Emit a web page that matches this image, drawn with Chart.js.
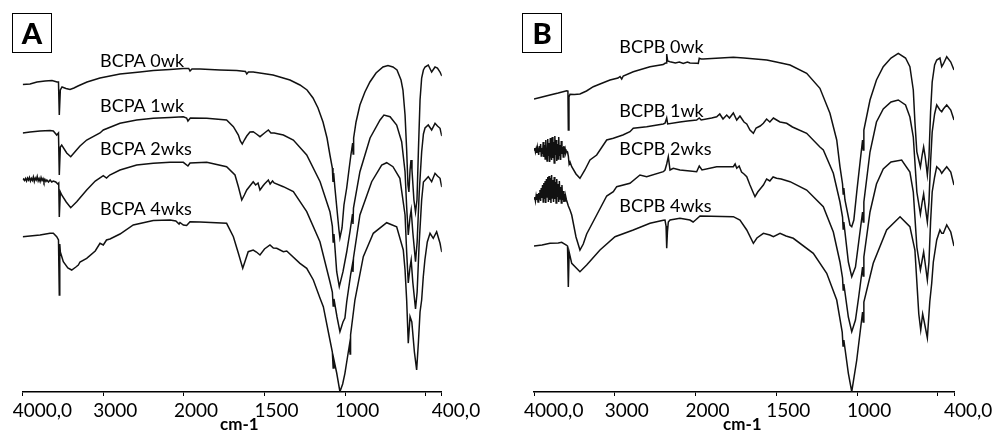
<!DOCTYPE html>
<html>
<head>
<meta charset="utf-8">
<script src="https://cdn.jsdelivr.net/npm/chart.js@4.4.1/dist/chart.umd.min.js"></script>
<style>
  html, body { margin: 0; padding: 0; background: #fff; }
  body { width: 997px; height: 432px; position: relative; overflow: hidden; font-family: Lato, "Open Sans", sans-serif; }
  .panel { position: absolute; top: 0; height: 432px; }
  .tag { position: absolute; top: 13px; width: 38px; height: 38px; border: 1.5px solid #000;
         font-weight: 900; font-size: 29px; line-height: 38px; text-align: center; color: #000; }
  .unit { position: absolute; top: 413px; font-weight: 700; font-size: 17px; color: #000; }
</style>
</head>
<body>
<div class="panel" style="left:0;width:498px"><canvas id="chartA" width="498" height="432"></canvas></div>
<div class="panel" style="left:498px;width:499px"><canvas id="chartB" width="499" height="432"></canvas></div>
<div class="tag" style="left:12px">A</div>
<div class="tag" style="left:522px">B</div>
<div class="unit" style="left:220px">cm-1</div>
<div class="unit" style="left:723px">cm-1</div>
<script>
// wavenumber (cm-1) vs. relative transmittance (offset spectra, arbitrary units)
const bcpa0wk = [[4000,307.5],[3909,308],[3823,310],[3723,311],[3636,311.5],[3574,310],[3556,310],[3546,277],[3533,302],[3512,305],[3463,303.5],[3413,302.5],[3364,304],[3314,306],[3202,310],[3041,314],[2793,318],[2545,320],[2380,321.5],[2172,322.5],[2007,323.5],[1970,323.5],[1962,321],[1950,323],[1900,323],[1776,322],[1672,321.5],[1618,320.5],[1610,318],[1600,320],[1570,320],[1447,317],[1342,312],[1280,307],[1236,302],[1199,294],[1168,284],[1137,270],[1112,254],[1094,237],[1079,224],[1075,210],[1071,219],[1063,204],[1050,182],[1038,162],[1032,154],[1019,164],[1007,187],[990,204],[976,222],[964,237],[953,249],[950,238],[947,254],[932,270],[908,287],[877,300],[846,310],[808,319],[765,325],[734,326.5],[703,325],[678,322],[653,312],[641,302],[628,277],[618,242],[610,207],[604,200],[597,222],[591,232],[585,222],[573,192],[563,180],[554,192],[545,242],[535,292],[525,314],[514,322],[504,325],[484,327],[463,320],[442,325],[427,324],[411,320],[400,316]];
const bcpa1wk = [[4000,259],[3909,260],[3785,261],[3661,261.5],[3620,261],[3578,257],[3556,259],[3546,217],[3533,245],[3516,247],[3454,239],[3404,235.3],[3351,240.3],[3289,246],[3206,252],[3041,259],[3000,262],[2793,268.7],[2586,272],[2380,273.7],[2172,274.5],[2007,275.3],[1983,274],[1975,271],[1960,274],[1858,273.7],[1735,272],[1693,265.3],[1662,257],[1650,251],[1638,248],[1625,252],[1610,256],[1590,260],[1570,260.3],[1550,258],[1528,255.3],[1500,259],[1476,262],[1460,259],[1440,259],[1383,257],[1321,252],[1238,237],[1155,210.3],[1094,180.3],[1079,166],[1074,150],[1069,158],[1052,120.3],[1036,105.3],[1013,120.3],[990,140],[970,160],[954,178],[951,168],[948,184],[908,220.3],[845,254],[783,272],[759,277],[721,275.3],[680,267],[649,250.3],[628,220.3],[618,185],[608,157],[597,175],[590,182],[580,160],[563,130.3],[553,150],[540,200],[525,240],[514,258],[504,264],[484,267],[463,262],[442,268.7],[427,266],[411,263.7],[400,256]];
const bcpa2wks = [[4000,212],[3988,213],[3976,211.5],[3964,213.5],[3952,211],[3940,214],[3928,212],[3916,214.5],[3904,211],[3892,213.5],[3880,211.5],[3868,215],[3856,210.5],[3844,214],[3832,212],[3820,215.5],[3808,211],[3796,213.5],[3784,210.5],[3772,214.5],[3760,211.5],[3748,213.5],[3736,210],[3724,212.5],[3712,210.5],[3700,212],[3680,210],[3660,212],[3640,210],[3620,211],[3590,210],[3565,208],[3553,209],[3546,175],[3533,200],[3516,197],[3460,190],[3404,184.3],[3330,190.3],[3206,202],[3100,211],[3000,216.3],[2960,214],[2920,217],[2793,222],[2586,227],[2380,228.7],[2172,229.7],[2007,229.7],[1975,226],[1962,229],[1858,229.7],[1735,225.3],[1683,217],[1662,205.3],[1641,192],[1625,197],[1610,202],[1570,210.3],[1555,207],[1540,209],[1528,202],[1510,206],[1500,208],[1476,212],[1465,208],[1450,211],[1440,209],[1383,205.3],[1321,200.3],[1238,180.3],[1156,150.3],[1094,110.3],[1079,100],[1074,86],[1069,93],[1050,75],[1032,60.3],[1013,70],[1001,74],[990,90],[965,118],[954,128],[951,120],[948,134],[908,177],[835,210.3],[773,227],[742,229.3],[703,225.3],[660,213.7],[628,177],[618,140],[608,109],[597,125],[590,132],[580,110],[563,83],[553,100],[540,150],[525,192],[514,210],[484,215.3],[463,210.3],[442,218.7],[427,216],[411,213.7],[400,205]];
const bcpa4wks = [[4000,155.3],[3909,156],[3785,157],[3661,158.7],[3620,158.7],[3578,155.3],[3556,152],[3546,97],[3540,148],[3533,140],[3496,130.3],[3440,124],[3392,122],[3340,125],[3310,127],[3289,130],[3206,133.7],[3100,141],[3041,148.7],[3000,147],[2960,152],[2917,153],[2793,158],[2628,167],[2380,171.5],[2172,172],[2100,171],[2060,168],[2048,169.5],[2007,167],[1983,166.5],[1962,170.3],[1900,170],[1735,168.7],[1693,155.3],[1662,138.7],[1635,123.7],[1618,132],[1601,140.3],[1570,142],[1550,140],[1528,137],[1500,143],[1466,147],[1445,144],[1424,143.7],[1383,140.3],[1362,141],[1280,128.7],[1238,123.7],[1197,112],[1156,94],[1135,85.3],[1094,52],[1079,40],[1074,24],[1069,32],[1052,19],[1032,0.3],[1015,8],[1001,18.7],[985,35],[972,48],[969,38],[966,57],[939,92],[887,135.3],[825,158.7],[742,169.3],[680,165.3],[639,142],[628,122],[618,92],[608,48.7],[597,75.3],[586,70],[570,40],[556,22],[545,50],[535,80],[525,92],[515,115],[505,132],[490,150],[473,158.7],[453,153.7],[432,160.3],[411,148.7],[400,140]];

const bcpb0wk = [[4000,293],[3900,295],[3802,297],[3700,299],[3595,301.3],[3580,301],[3575,262],[3567,295],[3554,297.7],[3500,297.5],[3431,298],[3350,301],[3266,305.3],[3183,308],[3059,312],[2960,314],[2935,315.5],[2914,313],[2895,316],[2771,320.3],[2564,325.3],[2400,327.5],[2378,328.7],[2365,329],[2357,338],[2345,331],[2316,330.3],[2250,329],[2200,330],[2152,328.5],[2100,330],[2069,329],[1993,328.7],[1983,328.5],[1977,333.7],[1965,333],[1952,333],[1900,333.5],[1766,334.7],[1700,334],[1559,332],[1500,330],[1415,327],[1312,318.7],[1230,303.7],[1168,278.7],[1126,252],[1106,225.3],[1090,208],[1086,198],[1082,204],[1075,192],[1044,167],[1033,165.3],[1020,172],[1002,200],[980,232],[966,252],[962,242],[958,262],[920,292],[880,312],[838,325.3],[790,334],[745,338.7],[700,334],[673,325.3],[652,302],[642,270],[630,240],[608,225],[597,237],[588,245],[578,235],[565,217],[555,235],[545,280],[535,310],[520,327],[507,332],[487,334],[476,325.3],[466,328],[445,335.3],[420,330],[400,322]];
const bcpb1wk = [[4000,242],[3990,244],[3982,240],[3974,243],[3966,239],[3958,245],[3950,241],[3942,237],[3934,246],[3926,240],[3918,248],[3910,236],[3902,244],[3894,238],[3886,250],[3878,235],[3870,247],[3862,233],[3854,252],[3846,240],[3838,231],[3830,253],[3822,236],[3814,249],[3806,230],[3798,254],[3790,238],[3782,232],[3774,255],[3766,234],[3758,250],[3750,229],[3742,256],[3734,237],[3726,252],[3718,231],[3710,248],[3702,233],[3694,255],[3686,236],[3678,247],[3670,232],[3662,251],[3654,238],[3646,245],[3638,235],[3630,246],[3622,240],[3614,243],[3606,239],[3598,241],[3585,240],[3575,236],[3565,228],[3554,230],[3533,225.3],[3480,218],[3431,213.7],[3370,222],[3307,232],[3224,237],[3100,252],[3018,253.7],[2900,257],[2812,260.3],[2771,263.7],[2605,265.3],[2400,268],[2378,268.7],[2357,274],[2345,268],[2193,270],[2100,271],[1993,272],[1977,274],[1965,272],[1900,274],[1869,275.3],[1850,278],[1830,273],[1807,277],[1790,274],[1766,279],[1745,272],[1725,276],[1700,270],[1683,268],[1663,262],[1642,258.7],[1625,264],[1600,266],[1580,268.7],[1560,273],[1540,270],[1518,274],[1498,272],[1477,270],[1436,268.7],[1400,265],[1312,258.7],[1230,245],[1209,242],[1147,218.7],[1106,190],[1090,175],[1086,163],[1082,170],[1054,130],[1033,115.3],[1010,125],[990,150],[966,180],[962,170],[958,190],[920,240],[880,270],[838,283],[790,290],[745,292],[700,287],[673,275],[652,255],[642,230],[630,200],[608,178],[597,190],[588,198],[578,185],[565,170],[555,190],[545,230],[535,260],[520,278],[507,287],[487,282],[476,280.3],[466,283],[445,287],[420,282],[400,272]];
const bcpb2wks = [[4000,193],[3990,195],[3982,191],[3974,196],[3966,192],[3958,198],[3950,190],[3942,199],[3934,193],[3926,202],[3918,191],[3910,204],[3902,194],[3894,207],[3886,190],[3878,209],[3870,193],[3862,211],[3854,189],[3846,213],[3838,195],[3830,215],[3822,190],[3814,216],[3806,192],[3798,214],[3790,189],[3782,217],[3774,194],[3766,212],[3758,190],[3750,215],[3742,193],[3734,210],[3726,189],[3718,213],[3710,195],[3702,208],[3694,190],[3686,211],[3678,193],[3670,205],[3662,189],[3654,207],[3646,192],[3638,201],[3630,190],[3622,198],[3614,191],[3606,195],[3598,192],[3590,190],[3575,186],[3554,182],[3533,177],[3480,155],[3431,142],[3390,148],[3348,158],[3224,177],[3100,196],[3018,200.3],[2976,205.3],[2812,208.7],[2688,217],[2605,215.3],[2399,220.3],[2378,222],[2357,228],[2337,235.3],[2316,222],[2276,223.7],[2193,222],[2069,221],[1993,220.3],[1977,226],[1960,222],[1869,225.3],[1766,225.3],[1755,228],[1745,223.7],[1730,226],[1715,220],[1700,218],[1683,215.3],[1663,207],[1642,199],[1632,195.3],[1615,200],[1600,203],[1580,207],[1560,213],[1540,211],[1520,215],[1498,213.7],[1470,213],[1415,210.3],[1312,202],[1209,185.3],[1147,160],[1106,130],[1090,114],[1086,102],[1082,108],[1054,75],[1033,60.3],[1010,72],[990,95],[966,125],[962,116],[958,135],[920,180],[880,208],[838,223],[790,230],[724,232],[673,220],[652,200],[642,175],[630,145],[608,122],[597,132],[588,140],[578,128],[565,112],[555,130],[545,170],[535,200],[520,215],[507,225.3],[487,222],[476,218.7],[466,221],[445,225.3],[420,220],[400,207]];
const bcpb4wks = [[4000,146],[3900,147],[3802,148.7],[3700,149],[3657,149.7],[3600,147],[3585,146],[3575,105],[3565,140],[3533,128.7],[3431,120.3],[3348,127],[3183,142],[2997,155.3],[2771,162],[2564,168.7],[2399,171.7],[2378,172],[2365,166],[2357,143.7],[2348,160],[2337,170],[2316,172],[2193,173.7],[2069,172],[2030,170],[2000,172],[1972,176],[1766,175.3],[1725,172],[1683,162],[1642,148.7],[1620,154],[1580,158.7],[1540,157],[1518,155.3],[1477,158.7],[1440,156],[1395,153.7],[1271,138.7],[1188,118.7],[1126,92],[1092,60],[1087,46],[1082,52],[1054,18.7],[1033,0.3],[1002,32],[966,80],[962,70],[958,90],[900,128.7],[817,162],[734,175.3],[673,165.3],[642,142],[630,110],[618,78],[606,62],[594,78],[584,70],[565,54],[550,90],[538,108.7],[528,130],[507,152],[487,162],[476,158.7],[466,158.7],[445,167],[420,160],[400,146]];

const namesA = ['BCPA 0wk', 'BCPA 1wk', 'BCPA 2wks', 'BCPA 4wks'];
const namesB = ['BCPB 0wk', 'BCPB 1wk', 'BCPB 2wks', 'BCPB 4wks'];

const tickWavenumbers = [4000, 3000, 2000, 1500, 1000, 500, 400];
const tickLabels = ['4000,0', '3000', '2000', '1500', '1000', '', '400,0'];

// the spectrometer plots 4000-2000 at half the scale of 2000-400
function toAxis(wn) {
  return wn > 2000 ? 2000 + (wn - 2000) / 2 : wn;
}

const seriesLabels = {
  id: 'seriesLabels',
  afterDatasetsDraw(chart, args, opts) {
    const { ctx, scales: { x, y } } = chart;
    ctx.save();
    ctx.font = '18px Lato';
    ctx.fillStyle = '#000';
    ctx.textBaseline = 'alphabetic';
    opts.names.forEach((name, i) => {
      ctx.fillText(name, x.getPixelForValue(toAxis(opts.at)), y.getPixelForValue(opts.levels[i]));
    });
    ctx.restore();
  }
};

function makeChart(id, series, names, pad, labelAt, labelLevels) {
  const tickValues = tickWavenumbers.map(toAxis);
  return new Chart(document.getElementById(id), {
    type: 'line',
    data: {
      datasets: series.map((s, i) => ({
        label: names[i],
        data: s.map(p => ({ x: toAxis(p[0]), y: p[1] })),
        borderColor: '#111',
        borderWidth: 1.5,
        pointRadius: 0,
        fill: false,
        tension: 0
      }))
    },
    options: {
      responsive: false,
      animation: false,
      devicePixelRatio: 1,
      layout: { padding: { left: pad[0], right: pad[1], top: 20, bottom: 0 } },
      plugins: {
        legend: { display: false },
        tooltip: { enabled: false },
        seriesLabels: { names: names, at: labelAt, levels: labelLevels }
      },
      scales: {
        x: {
          type: 'linear',
          reverse: true,
          min: 400,
          max: 3000,
          afterBuildTicks: scale => { scale.ticks = tickValues.map(v => ({ value: v })); },
          afterFit: scale => { scale.height = 40; scale.paddingLeft = 0; scale.paddingRight = 0; },
          border: { color: '#000', width: 1.5 },
          grid: { drawOnChartArea: false, color: '#000', tickLength: 4, lineWidth: 1 },
          ticks: {
            align: 'start',
            labelOffset: -10,
            padding: 3,
            color: '#000',
            autoSkip: false,
            maxRotation: 0,
            font: { family: 'Lato', size: 19 },
            callback: (v) => tickLabels[tickValues.indexOf(v)]
          }
        },
        y: { display: false, min: 0, max: 372 }
      }
    },
    plugins: [seriesLabels]
  });
}

makeChart('chartA', [bcpa0wk, bcpa1wk, bcpa2wks, bcpa4wks], namesA, [22.7, 56.2], 3041, [325.3, 280.3, 237, 177]);
makeChart('chartB', [bcpb0wk, bcpb1wk, bcpb2wks, bcpb4wks], namesB, [36, 43], 2944, [338.7, 274.7, 237, 179.7]);
</script>
</body>
</html>
